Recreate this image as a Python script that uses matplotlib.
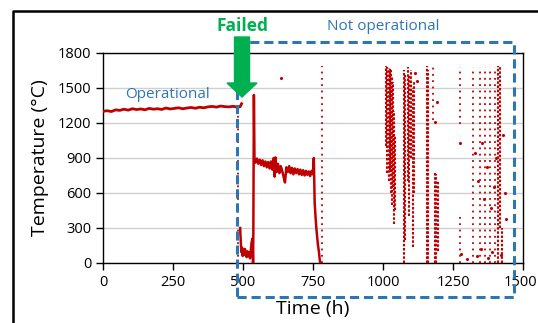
import matplotlib
matplotlib.use("Agg")
import matplotlib.pyplot as plt
from matplotlib.patches import Rectangle, FancyArrow
from matplotlib.lines import Line2D
from matplotlib.transforms import ScaledTranslation

# operational period (h, degC)
op_time = [0, 15, 30, 45, 60, 75, 90, 105, 120, 135, 150, 165, 180, 195, 210, 225,
           240, 255, 270, 285, 300, 315, 330, 345, 360, 375, 390, 405, 420, 435,
           450, 465, 480, 490, 495]
op_temp = [1300, 1305, 1298, 1312, 1308, 1318, 1310, 1322, 1315, 1320, 1313, 1325,
           1318, 1322, 1316, 1328, 1320, 1325, 1330, 1322, 1328, 1333, 1326, 1335,
           1330, 1338, 1342, 1336, 1345, 1340, 1338, 1343, 1335, 1340, 1365]

# after failure, continuous part
fail_time = [490, 491, 493, 495, 497, 499, 501, 504, 507, 510, 513, 516, 519, 522, 525,
             528, 531, 534, 536, 537, 539, 541, 545, 550, 555, 560, 565, 570, 575, 580,
             585, 590, 595, 600, 605, 610, 613, 616, 620, 625, 630, 635, 640, 645, 650,
             655, 660, 665, 670, 675, 680, 685, 690, 695, 700, 705, 710, 715, 720, 725,
             730, 735, 740, 745, 750, 753, 756, 759, 762, 765, 768, 771, 774, 776]
fail_temp = [300, 240, 150, 90, 130, 60, 110, 70, 120, 80, 50, 100, 60, 90, 40,
             110, 180, 210, 0, 260, 1440, 900, 860, 895, 850, 885, 840, 880, 830, 870,
             820, 865, 810, 870, 800, 900, 740, 905, 780, 850, 770, 830, 790, 740, 690,
             820, 780, 830, 770, 815, 760, 810, 770, 805, 760, 800, 755, 795, 750, 790,
             755, 785, 745, 790, 760, 900, 520, 400, 300, 220, 150, 100, 30, 0]

# scattered readings (vertical bands of dots)
dense_time = [1012, 1016, 1020, 1024, 1028, 1032, 1036, 1040, 1044,
              1076, 1080, 1088, 1094, 1100, 1106, 1112,
              1157, 1160, 1185, 1190, 1195, 1412, 1418, 1425]
dense_lo = [1000, 770, 700, 800, 600, 500, 650, 330, 450,
            0, 200, 700, 400, 900, 140, 600,
            0, 0, 0, 0, 100, 0, 300, 0]
dense_hi = [1690, 1680, 1670, 1660, 1650, 1600, 1550, 1300, 1100,
            1650, 1620, 1680, 1600, 1650, 1500, 1550,
            1690, 1650, 780, 760, 700, 1690, 1690, 300]

sparse_time = [482, 782, 1180, 1275, 1275, 1322, 1346, 1364, 1382, 1400]
sparse_lo = [0, 0, 1225, 1190, 0, 0, 0, 0, 0, 0]
sparse_hi = [1350, 1690, 1690, 1680, 430, 1680, 1680, 1680, 1680, 1680]

dot_time = [636, 1114, 1120, 1192, 1186, 1275, 1329, 1340, 1355, 1360, 1370, 1385,
            1395, 1405, 1430, 1435, 1440, 1280, 1300, 1335, 1350, 1375, 1390, 1420]
dot_temp = [1585, 1630, 1560, 1380, 1210, 1028, 940, 700, 1030, 550, 820, 470,
            650, 900, 1100, 600, 380, 80, 30, 60, 120, 40, 90, 70]

RED = "#C00000"
BLUE = "#2E75B6"
GREEN = "#00B050"

plt.rcParams['font.family'] = ['Open Sans', 'DejaVu Sans']

fig = plt.figure(figsize=(5.38, 3.23), dpi=100)
ax = fig.add_axes([0.1914, 0.1858, 0.7807, 0.6502])

ax.plot(op_time, op_temp, color=RED, lw=2.0, zorder=3)
ax.plot(fail_time, fail_temp, color=RED, lw=1.8, zorder=3)
ax.vlines(dense_time, dense_lo, dense_hi, colors=RED, lw=1.5,
          linestyles=[(0, (1.2, 0.8))], zorder=3)
ax.vlines(sparse_time, sparse_lo, sparse_hi, colors=RED, lw=1.3,
          linestyles=[(0, (1.0, 2.5))], zorder=3)
ax.scatter(dot_time, dot_temp, s=5, color=RED, lw=0, zorder=3)

ax.set_xlim(0, 1500)
ax.set_ylim(0, 1800)
ax.set_xticks([0, 250, 500, 750, 1000, 1250, 1500])
ax.set_yticks(range(0, 1801, 300))
ax.yaxis.grid(True, color="#D0D0D0", lw=1)
ax.set_axisbelow(True)
for s in ax.spines.values():
    s.set_color("black")
    s.set_linewidth(1)
ax.tick_params(direction="out", length=5, width=1, labelsize=10.5, colors="black")
ax.set_xlabel("Time (h)", fontsize=14, labelpad=7)
ax.set_ylabel("Temperature (\u00b0C)", fontsize=14, labelpad=6)

# keep the last x label inside the picture
last = ax.get_xticklabels()[-1]
last.set_transform(last.get_transform() + ScaledTranslation(-0.03, 0, fig.dpi_scale_trans))

# annotations
ax.add_patch(Rectangle((479, -291), 1468 - 479, 1894 + 291, fill=False,
                       ec=BLUE, lw=2.2, ls=(0, (3, 1.6)), clip_on=False, zorder=6))
ax.text(229, 1440, "Operational", color=BLUE, fontsize=11, ha="center", va="center")
fig.text(383 / 538, 1 - 27 / 323, "Not operational", color=BLUE, fontsize=11,
         ha="center", va="center")
fig.text(243 / 538, 1 - 26 / 323, "Failed", color=GREEN, fontsize=12.5,
         fontweight="bold", ha="center", va="center")
fig.add_artist(FancyArrow(2.42, 2.86, 0, -0.60, width=0.15, head_width=0.30,
                          head_length=0.14, length_includes_head=True,
                          color=GREEN, transform=fig.dpi_scale_trans))

# outer frame
x0, y0 = 13 / 538, 1 - 11 / 323
fig.add_artist(Line2D([x0, x0, 1.01], [-0.01, y0, y0], color="black", lw=1.8,
                      transform=fig.transFigure))

fig.savefig("out.png", dpi=100)
